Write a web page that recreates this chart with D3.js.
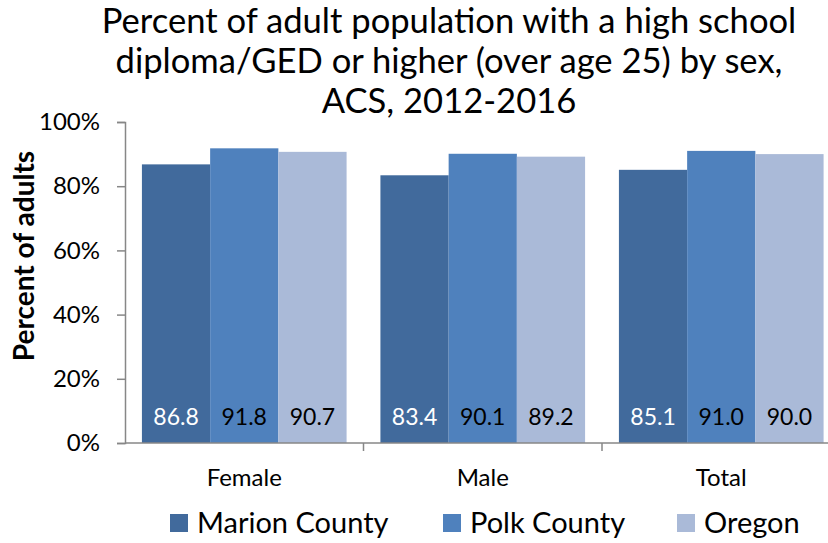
<!DOCTYPE html>
<html><head><meta charset="utf-8">
<script src="https://cdn.jsdelivr.net/npm/d3@7/dist/d3.min.js"></script>
<style>body{margin:0;background:#fff;}svg{display:block;font-family:Lato,"Open Sans",sans-serif;}</style>
</head><body>
<svg id="c" width="828" height="543"></svg>
<script>
const categories = ["Female", "Male", "Total"];
const seriesNames = ["Marion County", "Polk County", "Oregon"];
const marion = [86.8, 83.4, 85.1];
const polk = [91.8, 90.1, 91.0];
const oregon = [90.7, 89.2, 90.0];
const yTicks = [0, 20, 40, 60, 80, 100];
const titleLines = ["Percent of adult population with a high school", "diploma/GED or higher (over age 25) by sex,", "ACS, 2012-2016"];
const colors = ["#416A9C", "#4F81BD", "#AABAD8"];
const labelColors = ["#fff", "#000", "#000"];
const series = [marion, polk, oregon];

(function () {
const svg = d3.select("#c");
const mLeft = 125, mRight = 840.5, mTop = 122, mBottom = 443;
const x0 = d3.scaleBand().domain(categories).range([mLeft, mRight]).paddingInner(0).paddingOuter(0);
const x1 = d3.scaleBand().domain(seriesNames).range([0, x0.bandwidth()]).paddingInner(0).paddingOuter(0.248);
const y = d3.scaleLinear().domain([0, 100]).range([mBottom, mTop]);

svg.append("g").selectAll("text").data(titleLines).join("text")
  .attr("x", 449).attr("y", (d, i) => 33 + i * 40)
  .attr("text-anchor", "middle").attr("font-size", 34.6).attr("fill", "#000").text(d => d);

const g = svg.append("g");
categories.forEach((c, ci) => {
  seriesNames.forEach((s, si) => {
    const v = series[si][ci];
    g.append("rect").attr("x", x0(c) + x1(s)).attr("width", x1.bandwidth())
      .attr("y", y(v)).attr("height", y(0) - y(v)).attr("fill", colors[si]);
    g.append("text").attr("x", x0(c) + x1(s) + x1.bandwidth() / 2).attr("y", 425)
      .attr("text-anchor", "middle").attr("font-size", 23).attr("fill", labelColors[si])
      .text(v.toFixed(1));
  });
});

const ya = svg.append("g").attr("transform", `translate(${mLeft},0)`)
  .call(d3.axisLeft(y).tickValues(yTicks).tickFormat(d => d + "%").tickSize(8).tickPadding(17));
ya.select(".domain").attr("stroke", "#878787").attr("stroke-width", 1.5);
ya.selectAll(".tick line").attr("stroke", "#878787").attr("stroke-width", 1.5);
ya.selectAll("text").attr("font-size", 24).attr("font-family", "Lato,'Open Sans',sans-serif").attr("fill", "#000");

svg.append("line").attr("x1", mLeft).attr("x2", 828).attr("y1", mBottom).attr("y2", mBottom)
  .attr("stroke", "#878787").attr("stroke-width", 1.5);
svg.append("g").selectAll("line").data(categories).join("line")
  .attr("x1", d => x0(d) + x0.bandwidth()).attr("x2", d => x0(d) + x0.bandwidth()).attr("y1", mBottom).attr("y2", mBottom + 8)
  .attr("stroke", "#878787").attr("stroke-width", 1.5);
svg.append("g").selectAll("text").data(categories).join("text")
  .attr("x", d => x0(d) + x0.bandwidth() / 2).attr("y", 486)
  .attr("text-anchor", "middle").attr("font-size", 24).attr("fill", "#000").text(d => d);

svg.append("text").attr("transform", "translate(34,256) rotate(-90)")
  .attr("text-anchor", "middle").attr("font-size", 28).attr("font-weight", "bold").attr("fill", "#000")
  .text("Percent of adults");

const legX = [170, 443, 677];
seriesNames.forEach((s, i) => {
  svg.append("rect").attr("x", legX[i]).attr("y", 514).attr("width", 18).attr("height", 18).attr("fill", colors[i]);
  svg.append("text").attr("x", legX[i] + 27).attr("y", 533).attr("font-size", 29).attr("fill", "#000").text(s);
});
})();
</script>
</body></html>
